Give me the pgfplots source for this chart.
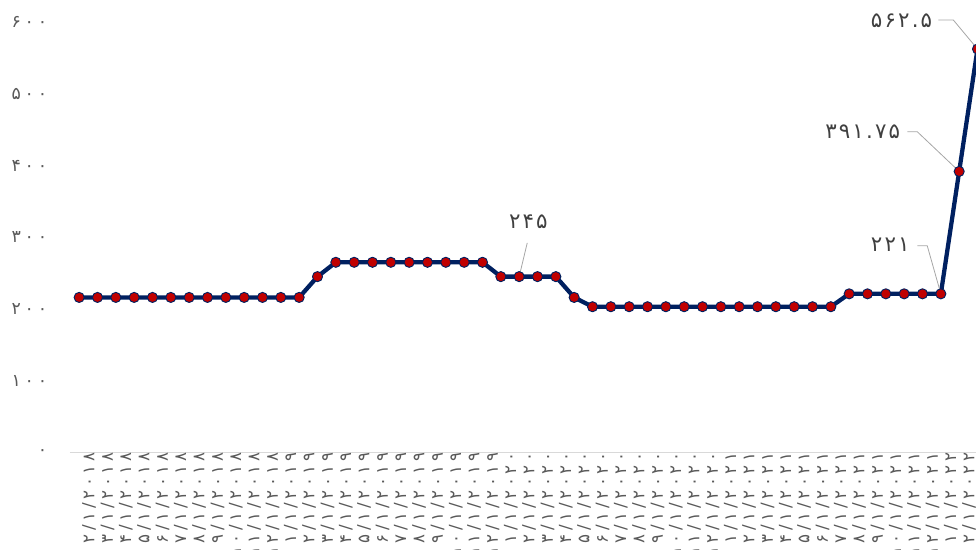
\documentclass[border=0pt]{standalone}
\usepackage{pgfplots}
\pgfplotsset{compat=1.18}
\usepackage{fontspec}
\newfontfamily\fatick[LetterSpace=22]{DejaVu Sans}
\newfontfamily\falab[LetterSpace=10]{DejaVu Sans}
\definecolor{navy}{HTML}{002060}
\definecolor{myred}{HTML}{C00000}
\definecolor{tickgray}{HTML}{595959}
\definecolor{labgray}{HTML}{404040}
\definecolor{leadgray}{HTML}{A6A6A6}
\definecolor{axgray}{HTML}{D9D9D9}
\pgfplotstableread{
x y
0 216
1 216
2 216
3 216
4 216
5 216
6 216
7 216
8 216
9 216
10 216
11 216
12 216
13 245
14 265
15 265
16 265
17 265
18 265
19 265
20 265
21 265
22 265
23 245
24 245
25 245
26 245
27 216
28 203
29 203
30 203
31 203
32 203
33 203
34 203
35 203
36 203
37 203
38 203
39 203
40 203
41 203
42 221
43 221
44 221
45 221
46 221
47 221
48 391.75
49 562.5
}\datatable
\begin{document}
\begin{tikzpicture}[x=1pt,y=1pt]
\begin{axis}[
  at={(52.5pt,73.3pt)}, anchor=south west,
  scale only axis, width=687.5pt, height=322.6pt,
  xmin=-0.5, xmax=49.5, ymin=0, ymax=600,
  clip=false,
  axis x line*=bottom, axis y line*=left,
  y axis line style={draw=none},
  x axis line style={draw=axgray, line width=0.75pt, -},
  major tick length=0pt,
  xtick={0,...,49},
  xticklabels={۲/۱/۲۰۱۸,۳/۱/۲۰۱۸,۴/۱/۲۰۱۸,۵/۱/۲۰۱۸,۶/۱/۲۰۱۸,۷/۱/۲۰۱۸,۸/۱/۲۰۱۸,۹/۱/۲۰۱۸,۱۰/۱/۲۰۱۸,۱۱/۱/۲۰۱۸,۱۲/۱/۲۰۱۸,
  ۱/۱/۲۰۱۹,۲/۱/۲۰۱۹,۳/۱/۲۰۱۹,۴/۱/۲۰۱۹,۵/۱/۲۰۱۹,۶/۱/۲۰۱۹,۷/۱/۲۰۱۹,۸/۱/۲۰۱۹,۹/۱/۲۰۱۹,۱۰/۱/۲۰۱۹,۱۱/۱/۲۰۱۹,۱۲/۱/۲۰۱۹,
  ۱/۱/۲۰۲۰,۲/۱/۲۰۲۰,۳/۱/۲۰۲۰,۴/۱/۲۰۲۰,۵/۱/۲۰۲۰,۶/۱/۲۰۲۰,۷/۱/۲۰۲۰,۸/۱/۲۰۲۰,۹/۱/۲۰۲۰,۱۰/۱/۲۰۲۰,۱۱/۱/۲۰۲۰,۱۲/۱/۲۰۲۰,
  ۱/۱/۲۰۲۱,۲/۱/۲۰۲۱,۳/۱/۲۰۲۱,۴/۱/۲۰۲۱,۵/۱/۲۰۲۱,۶/۱/۲۰۲۱,۷/۱/۲۰۲۱,۸/۱/۲۰۲۱,۹/۱/۲۰۲۱,۱۰/۱/۲۰۲۱,۱۱/۱/۲۰۲۱,۱۲/۱/۲۰۲۱,
  ۱/۱/۲۰۲۲,۲/۱/۲۰۲۲,۳/۱/۲۰۲۲},
  xticklabel style={rotate=90, anchor=east, inner sep=0pt, yshift=-7.5pt, font=\fatick\fontsize{12.5}{12.5}\selectfont, text=tickgray},
  ytick={0,100,200,300,400,500,600},
  yticklabels={۰,۱۰۰,۲۰۰,۳۰۰,۴۰۰,۵۰۰,۶۰۰},
  yticklabel style={anchor=east, inner sep=0pt, xshift=-17pt, font=\fatick\fontsize{13}{13}\selectfont, text=tickgray},
]
\addplot[color=navy, line width=3.2pt, line join=round, mark=*, mark size=3.8pt,
  mark options={fill=myred, draw=navy, line width=0.7pt}] table[x=x,y=y] {\datatable};
\draw[leadgray, line width=0.6pt] (axis cs:24.44,292) -- (axis cs:24,245);
\draw[leadgray, line width=0.6pt] (axis cs:45.72,288) -- (axis cs:46.26,288) -- (axis cs:47,221);
\draw[leadgray, line width=0.6pt] (axis cs:45.17,447) -- (axis cs:45.72,447) -- (axis cs:48,391.75);
\draw[leadgray, line width=0.6pt] (axis cs:46.86,603) -- (axis cs:47.68,603) -- (axis cs:49,562.5);
\node[font=\falab\fontsize{16}{16}\selectfont, text=labgray] at (axis cs:24.5,321.3) {۲۴۵};
\node[font=\falab\fontsize{16}{16}\selectfont, text=labgray] at (axis cs:44.24,289.2) {۲۲۱};
\node[font=\falab\fontsize{16}{16}\selectfont, text=labgray, anchor=east, inner sep=0pt] at (axis cs:44.79,446.9) {۳۹۱.۷۵};
\node[font=\falab\fontsize{16}{16}\selectfont, text=labgray, anchor=east, inner sep=0pt] at (axis cs:46.54,602.5) {۵۶۲.۵};
\end{axis}
\pgfresetboundingbox
\path (0pt,0pt) rectangle (732pt,412.5pt);
\end{tikzpicture}
\end{document}
